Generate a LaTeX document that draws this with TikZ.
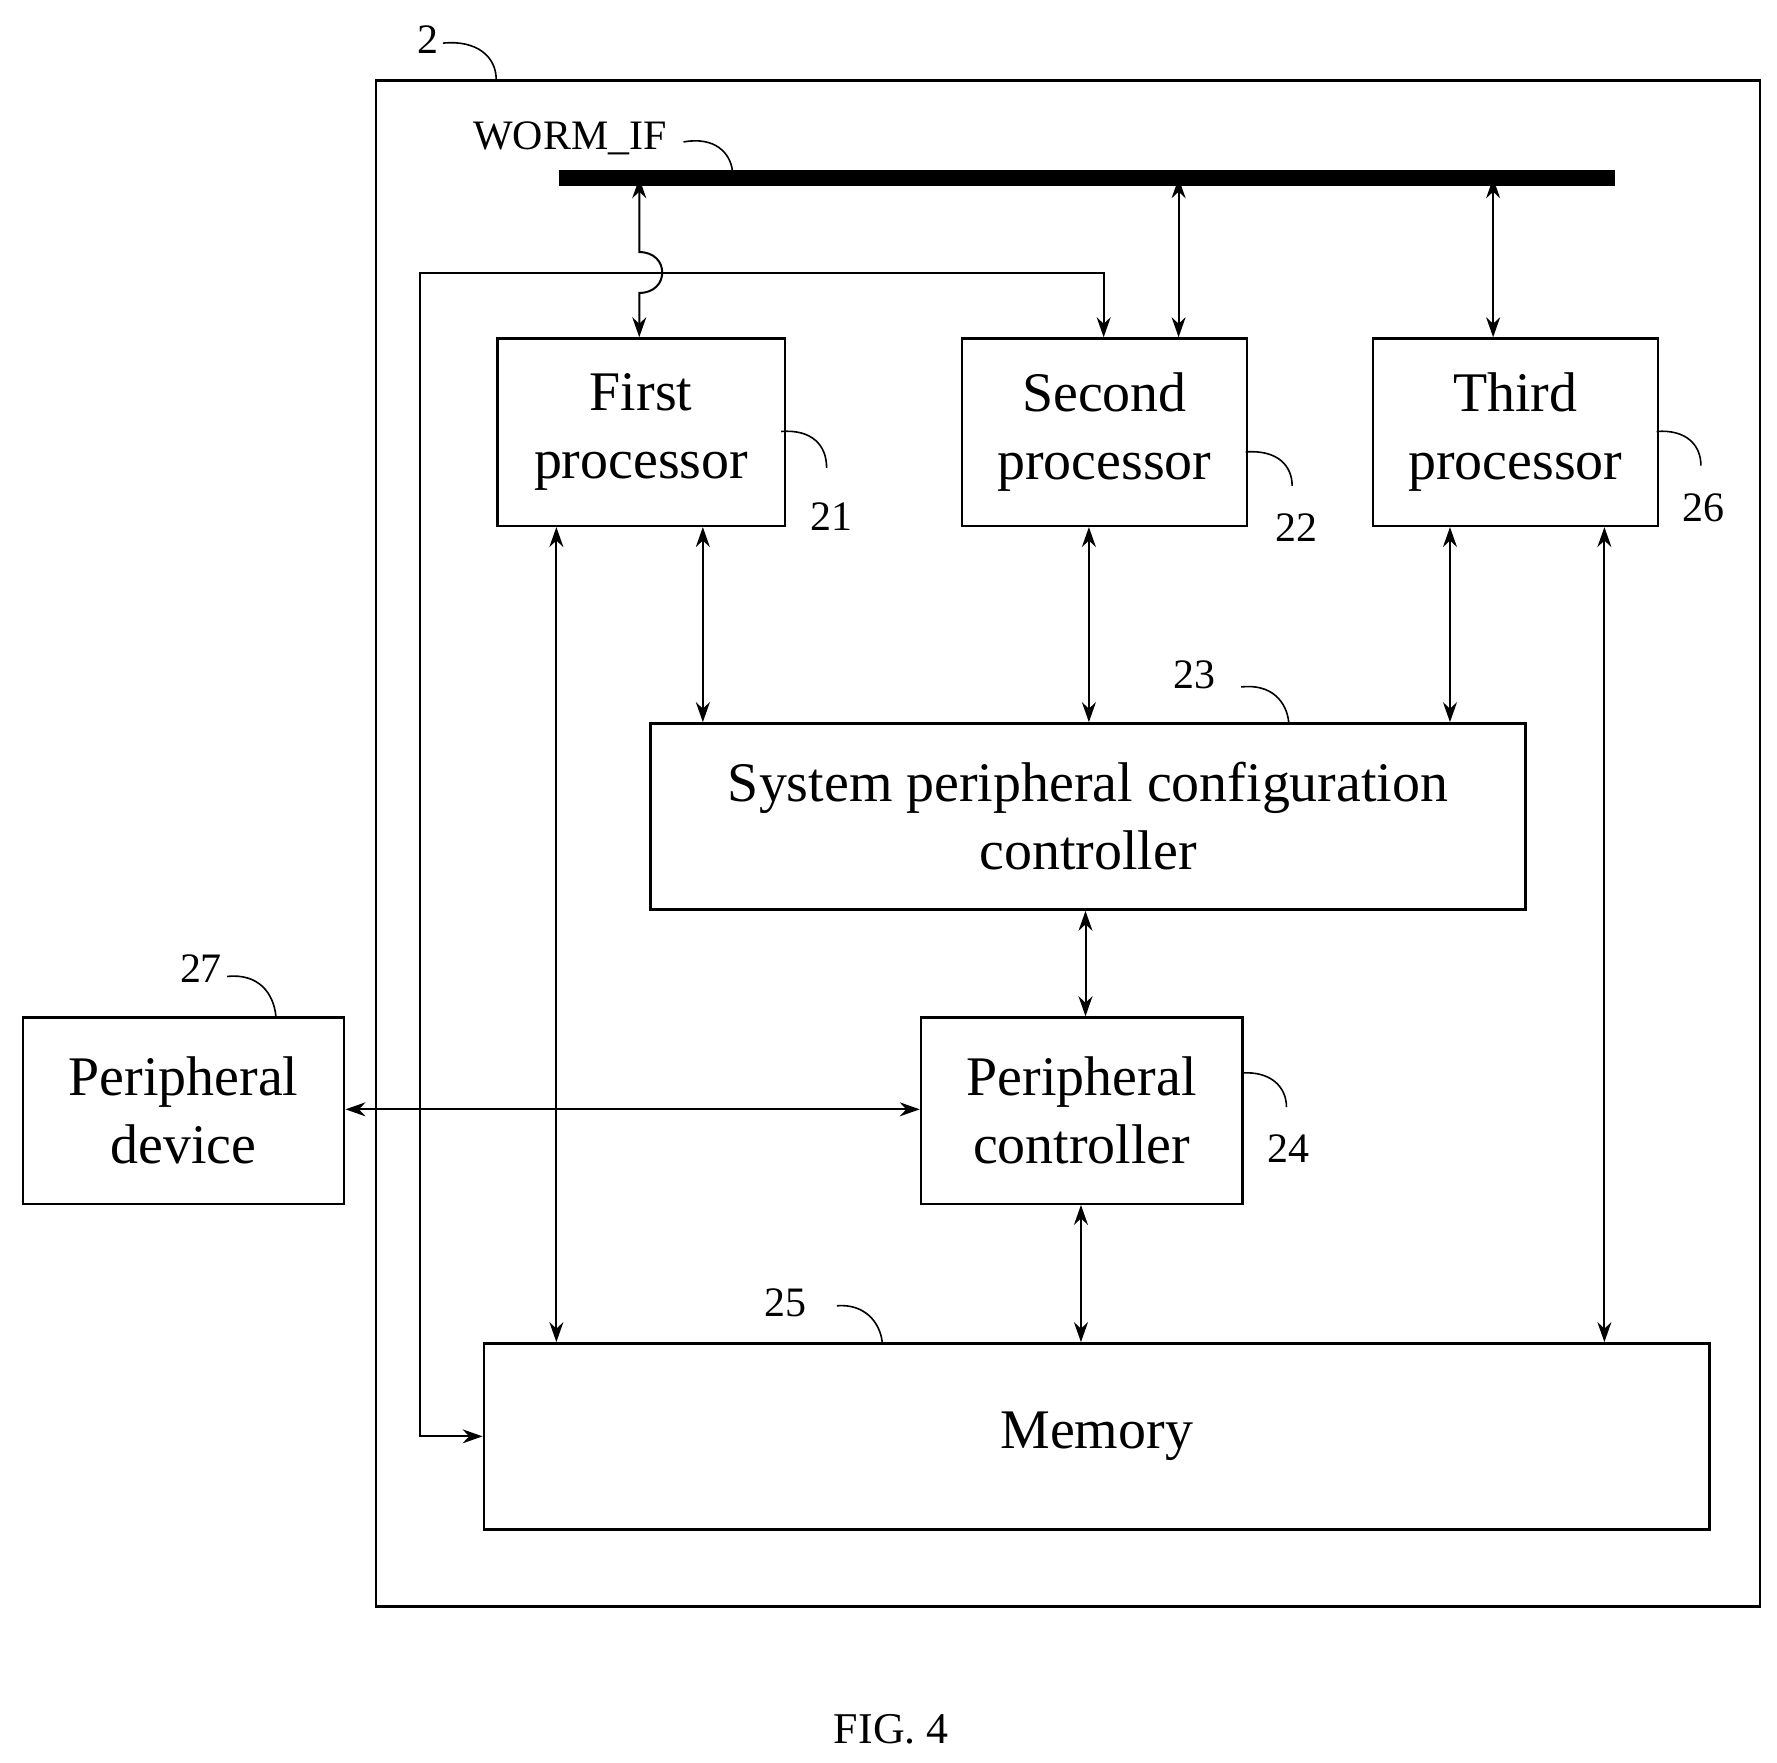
\documentclass[tikz,border=0pt]{standalone}
\usepackage{fontspec}
\setmainfont{Liberation Serif}
\usetikzlibrary{arrows.meta}
\begin{document}
\begin{tikzpicture}[x=0.01cm,y=-0.01cm,
  box/.style={draw,line width=0.6pt,inner sep=0pt},
  big/.style={font=\fontsize{14}{17}\selectfont,align=center},
  num/.style={font=\fontsize{10.5}{12}\selectfont},
  con/.style={line width=0.5pt,{Stealth[length=5pt,width=3.5pt]}-{Stealth[length=5pt,width=3.5pt]}},
  lead/.style={line width=0.4pt}]
\useasboundingbox (0,0) rectangle (1565,1552);
\node[box,minimum width=12.18cm,minimum height=13.43cm,anchor=north west] (outer) at (330,70) {};
\node[num] (n2) at (377,35) {2};
\draw[lead] (390,38) .. controls (420,35) and (437,50) .. (437,70);
\coordinate (busL) at (492,157); \coordinate (busR) at (1422,157);
\draw[line width=4pt] (busL) -- (busR);
\node[font=\fontsize{10.5}{12}\selectfont] (worm) at (502,122) {WORM\_IF};
\draw[lead] (602,125) .. controls (630,120) and (643,135) .. (645,150);
\node[box,minimum width=2.53cm,minimum height=1.65cm,anchor=north west,big] (p1) at (437,297) {First\\processor};
\node[box,minimum width=2.51cm,minimum height=1.65cm,anchor=north west,big] (p2) at (846,297) {Second\\processor};
\node[box,minimum width=2.51cm,minimum height=1.65cm,anchor=north west,big] (p3) at (1208,297) {Third\\processor};
\node[box,minimum width=7.70cm,minimum height=1.64cm,anchor=north west,big] (spc) at (572,636) {System peripheral configuration\\controller};
\node[box,minimum width=2.83cm,minimum height=1.64cm,anchor=north west,big] (pc) at (810,895) {Peripheral\\controller};
\node[box,minimum width=10.79cm,minimum height=1.64cm,anchor=north west,big] (mem) at (425,1182) {Memory};
\node[box,minimum width=2.83cm,minimum height=1.64cm,anchor=north west,big] (pd) at (19,895) {Peripheral\\device};
\node[num] (n21) at (732,455) {21};
\draw[lead] (688,380) .. controls (715,378) and (728,392) .. (728,412);
\node[num] (n22) at (1142,465) {22};
\draw[lead] (1097,398) .. controls (1125,396) and (1138,410) .. (1138,428);
\node[num] (n26) at (1500,447) {26};
\draw[lead] (1459,380) .. controls (1485,378) and (1498,392) .. (1498,410);
\node[num] (n23) at (1052,594) {23};
\draw[lead] (1093,605) .. controls (1120,602) and (1133,618) .. (1135,636);
\node[num] (n24) at (1135,1012) {24};
\draw[lead] (1093,945) .. controls (1120,943) and (1133,958) .. (1133,975);
\node[num] (n25) at (692,1147) {25};
\draw[lead] (737,1150) .. controls (762,1148) and (775,1165) .. (777,1182);
\node[num] (n27) at (177,853) {27};
\draw[lead] (200,860) .. controls (228,857) and (241,875) .. (243,895);
% bus links
\draw[con] (563,157) -- (563,222) .. controls (590,222) and (590,258) .. (563,258) -- (p1.north -| 563,0);
\draw[con] (1038,157) -- (p2.north -| 1038,0);
\draw[con] (1315,157) -- (p3.north -| 1315,0);
% loop line from memory to second processor
\draw[con] (mem.west |- 0,1265) -- (370,1265) -- (370,240) -- (972,240) -- (p2.north -| 972,0);
% processors to SPCC
\draw[con] (p1.south -| 619,0) -- (spc.north -| 619,0);
\draw[con] (p2.south -| 959,0) -- (spc.north -| 959,0);
\draw[con] (p3.south -| 1277,0) -- (spc.north -| 1277,0);
\draw[con] (p1.south -| 490,0) -- (mem.north -| 490,0);
\draw[con] (p3.south -| 1413,0) -- (mem.north -| 1413,0);
\draw[con] (spc.south -| 956,0) -- (pc.north -| 956,0);
\draw[con] (pc.south -| 952,0) -- (mem.north -| 952,0);
\draw[con] (pd.east |- 0,977) -- (pc.west |- 0,977);
\node[font=\fontsize{11}{13}\selectfont] (fig) at (785,1523) {FIG. 4};
\end{tikzpicture}
\end{document}
